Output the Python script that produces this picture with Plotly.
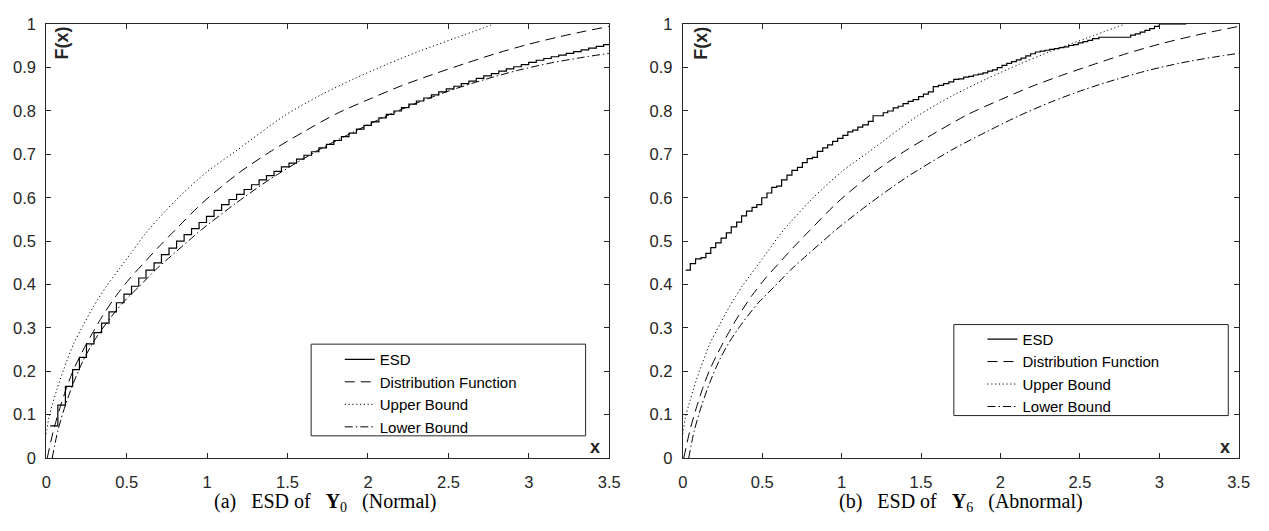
import plotly.graph_objects as go

# The page keeps the browser's default 8 px body margin, so a 1253 x 515 figure
# fills the 1269 x 531 window exactly and sits at (8, 8) in the picture.
PAGE_MARGIN = 8
WF, HF = 1253, 515

# ---------------- data ----------------
UB_X = [0.0, 0.016, 0.037, 0.067, 0.108, 0.17, 0.231, 0.292, 0.374, 0.456, 0.538, 0.62,
        0.81, 1.0, 1.176, 1.48, 1.707, 1.912, 2.12, 2.32, 2.55, 2.78]
UB_Y = [0.055, 0.093, 0.122, 0.159, 0.204, 0.263, 0.307, 0.348, 0.396, 0.437, 0.478, 0.519,
        0.596, 0.66, 0.707, 0.789, 0.837, 0.874, 0.908, 0.938, 0.969, 1.0]

DF_X = [0.006, 0.047, 0.088, 0.129, 0.17, 0.22, 0.272, 0.354, 0.436, 0.517, 0.6, 0.7, 0.8,
        0.97, 1.2, 1.4, 1.6, 1.8, 2.0, 2.2, 2.4, 2.6, 2.8, 3.0, 3.2, 3.35, 3.5]
DF_Y = [0.0, 0.067, 0.119, 0.165, 0.204, 0.242, 0.278, 0.33, 0.375, 0.413, 0.447, 0.487, 0.525,
        0.588, 0.658, 0.708, 0.752, 0.793, 0.826, 0.857, 0.884, 0.909, 0.933, 0.954, 0.972, 0.984, 0.995]

LB_X = [0.037, 0.072, 0.119, 0.17, 0.231, 0.292, 0.374, 0.476, 0.579, 0.68, 0.783, 0.885, 0.967,
        1.17, 1.4, 1.707, 1.912, 2.117, 2.32, 2.525, 2.73, 2.935, 3.14, 3.34, 3.5]
LB_Y = [0.0, 0.063, 0.122, 0.174, 0.226, 0.267, 0.311, 0.358, 0.396, 0.434, 0.468, 0.501, 0.527,
        0.585, 0.645, 0.713, 0.752, 0.789, 0.821, 0.849, 0.873, 0.894, 0.911, 0.924, 0.933]

ESD0_X = [0.025, 0.072, 0.119, 0.164, 0.206, 0.25, 0.297, 0.344, 0.39, 0.436, 0.483, 0.53, 0.575,
          0.62, 0.67, 0.716, 0.763, 0.81, 0.857, 0.903, 0.95, 0.996, 1.043, 1.09, 1.136, 1.183,
          1.23, 1.276, 1.323, 1.369, 1.416, 1.462, 1.509, 1.556, 1.602, 1.649, 1.695, 1.742,
          1.788, 1.835, 1.882, 1.928, 1.975, 2.021, 2.068, 2.114, 2.161, 2.208, 2.254, 2.301,
          2.347, 2.394, 2.44, 2.487, 2.534, 2.58, 2.627, 2.673, 2.72, 2.767, 2.813, 2.86, 2.906,
          2.953, 2.999, 3.046, 3.093, 3.139, 3.186, 3.232, 3.279, 3.325, 3.372, 3.419, 3.465, 3.5]
ESD0_Y = [0.074, 0.122, 0.165, 0.204, 0.232, 0.263, 0.289, 0.311, 0.337, 0.358, 0.378, 0.396, 0.415,
          0.433, 0.45, 0.469, 0.484, 0.5, 0.515, 0.529, 0.543, 0.557, 0.571, 0.584, 0.596, 0.608,
          0.619, 0.63, 0.641, 0.651, 0.661, 0.671, 0.68, 0.689, 0.698, 0.706, 0.715, 0.723,
          0.732, 0.741, 0.749, 0.758, 0.767, 0.775, 0.784, 0.792, 0.8, 0.808, 0.816, 0.823,
          0.83, 0.837, 0.844, 0.851, 0.857, 0.863, 0.869, 0.875, 0.881, 0.886, 0.892, 0.897, 0.902,
          0.907, 0.912, 0.917, 0.921, 0.925, 0.929, 0.933, 0.937, 0.941, 0.945, 0.949, 0.953, 0.955]

ESD6_X = [0.018, 0.047, 0.08, 0.115, 0.145, 0.176, 0.207, 0.241, 0.274, 0.305, 0.339, 0.37, 0.401,
          0.436, 0.466, 0.497, 0.53, 0.56, 0.591, 0.622, 0.656, 0.687, 0.722, 0.753, 0.783, 0.816,
          0.847, 0.881, 0.912, 0.943, 0.975, 1.008, 1.039, 1.07, 1.102, 1.133, 1.168, 1.198, 1.262,
          1.29, 1.325, 1.356, 1.387, 1.419, 1.45, 1.485, 1.515, 1.546, 1.577, 1.609, 1.642, 1.675,
          1.706, 1.738, 1.769, 1.8, 1.83, 1.86, 1.89, 1.92, 1.95, 1.98, 2.01, 2.04, 2.07, 2.1, 2.13,
          2.16, 2.19, 2.22, 2.25, 2.28, 2.31, 2.34, 2.37, 2.4, 2.43, 2.46, 2.49, 2.52, 2.55, 2.58,
          2.62, 2.82, 2.85, 2.88, 2.91, 2.94, 2.97, 3.0, 3.17]
ESD6_Y = [0.433, 0.448, 0.459, 0.462, 0.472, 0.485, 0.496, 0.507, 0.519, 0.533, 0.544, 0.558, 0.569,
          0.578, 0.584, 0.6, 0.611, 0.624, 0.627, 0.641, 0.652, 0.663, 0.67, 0.681, 0.69, 0.693,
          0.707, 0.715, 0.722, 0.73, 0.737, 0.744, 0.752, 0.756, 0.763, 0.768, 0.776, 0.789, 0.796,
          0.8, 0.807, 0.811, 0.817, 0.822, 0.826, 0.833, 0.839, 0.844, 0.856, 0.859, 0.863, 0.867,
          0.873, 0.874, 0.878, 0.88, 0.883, 0.885, 0.888, 0.892, 0.895, 0.9, 0.905, 0.91, 0.914, 0.918, 0.922,
          0.927, 0.932, 0.936, 0.938, 0.94, 0.942, 0.944, 0.946, 0.948, 0.951, 0.953, 0.957, 0.96, 0.963, 0.967,
          0.97, 0.975, 0.978, 0.982, 0.986, 0.99, 0.995, 1.0, 1.0]

X_TICKS = [0, 0.5, 1, 1.5, 2, 2.5, 3, 3.5]
Y_TICKS = [0, 0.1, 0.2, 0.3, 0.4, 0.5, 0.6, 0.7, 0.8, 0.9, 1]
NAMES = ["ESD", "Distribution Function", "Upper Bound", "Lower Bound"]
NB = "\u00a0\u00a0 "
CAPTIONS = ["(a)" + NB + "ESD of" + NB + "<b>Y</b><sub>0</sub>" + NB + "(Normal)",
            "(b)" + NB + "ESD of" + NB + "<b>Y</b><sub>6</sub>" + NB + "(Abnormal)"]


# ---------------- layout helpers (picture pixels -> paper fractions) ----------------
def px(ix):
    return (ix - PAGE_MARGIN) / WF


def py(iy):
    return 1 - (iy - PAGE_MARGIN) / HF


AX_COLOR = "#262626"
SANS = "Liberation Sans, Arial, sans-serif"
SERIF = "Liberation Serif, Times New Roman, serif"

fig = go.Figure()

panels = [
    dict(xa="x", ya="y", legend="legend", esd_x=ESD0_X, esd_y=ESD0_Y),
    dict(xa="x2", ya="y2", legend="legend2", esd_x=ESD6_X, esd_y=ESD6_Y),
]

for p in panels:
    fig.add_trace(go.Scatter(x=p["esd_x"], y=p["esd_y"], mode="lines", name=NAMES[0],
                             line=dict(color="black", width=1.2, shape="hv"),
                             xaxis=p["xa"], yaxis=p["ya"], legend=p["legend"], hoverinfo="skip"))
    fig.add_trace(go.Scatter(x=DF_X, y=DF_Y, mode="lines", name=NAMES[1],
                             line=dict(color="black", width=1.0, dash="10px,6px", shape="spline", smoothing=0.8),
                             xaxis=p["xa"], yaxis=p["ya"], legend=p["legend"], hoverinfo="skip"))
    fig.add_trace(go.Scatter(x=UB_X, y=UB_Y, mode="lines", name=NAMES[2],
                             line=dict(color="black", width=1.0, dash="1.2px,2.6px", shape="spline", smoothing=0.8),
                             xaxis=p["xa"], yaxis=p["ya"], legend=p["legend"], hoverinfo="skip"))
    fig.add_trace(go.Scatter(x=LB_X, y=LB_Y, mode="lines", name=NAMES[3],
                             line=dict(color="black", width=1.0, dash="8px,3px,1.5px,3px", shape="spline", smoothing=0.8),
                             xaxis=p["xa"], yaxis=p["ya"], legend=p["legend"], hoverinfo="skip"))

axis_common = dict(
    showline=True, linecolor=AX_COLOR, linewidth=1, mirror="ticks",
    ticks="inside", ticklen=5, tickwidth=1, tickcolor=AX_COLOR,
    showgrid=False, zeroline=False, ticklabeloverflow="allow",
    tickfont=dict(family=SANS, size=16.5, color=AX_COLOR),
)

xdom1 = [px(41.7), px(612)]
xdom2 = [px(686.5), px(1249.5)]
ydom = [py(465), py(15.5)]

fig.update_layout(
    width=WF, height=HF,
    margin=dict(l=0, r=0, t=0, b=0),
    paper_bgcolor="white", plot_bgcolor="white",
    xaxis=dict(domain=xdom1, range=[0, 3.5], tickvals=X_TICKS, anchor="y",
               ticklabelstandoff=9, **axis_common),
    yaxis=dict(domain=ydom, range=[0, 1], tickvals=Y_TICKS, anchor="x",
               ticklabelstandoff=6, **axis_common),
    xaxis2=dict(domain=xdom2, range=[0, 3.5], tickvals=X_TICKS, anchor="y2",
                ticklabelstandoff=9, **axis_common),
    yaxis2=dict(domain=ydom, range=[0, 1], tickvals=Y_TICKS, anchor="x2",
                ticklabelstandoff=6, **axis_common),
    showlegend=True,
)

# legend: text starts 40 px right of the legend's left edge;
# the middle of the four entries (22.5 px apart) sits 50 px below its top edge
leg_common = dict(xanchor="left", yanchor="top", bgcolor="rgba(0,0,0,0)", borderwidth=0,
                  font=dict(family=SANS, size=15, color="black"),
                  traceorder="normal", itemclick=False, itemdoubleclick=False)
fig.update_layout(
    legend=dict(x=px(379 - 40), y=py(395.9 - 50), **leg_common),
    legend2=dict(x=px(1030 - 40), y=py(374.85 - 50), **leg_common),
)

# legend frames (MATLAB style box)
for (x0, x1, y0, y1) in [(310, 588, 347, 442), (961, 1239, 326.7, 421)]:
    fig.add_shape(type="rect", xref="paper", yref="paper",
                  x0=px(x0), x1=px(x1), y0=py(y1), y1=py(y0),
                  line=dict(color=AX_COLOR, width=1), fillcolor="rgba(0,0,0,0)", layer="above")

# axis labels inside the box, MATLAB style
for fx, xx in [(58, 597.5), (704.5, 1236)]:
    fig.add_annotation(x=px(fx), y=py(35), xref="paper", yref="paper", text="<b>F(x)</b>",
                       textangle=-90, showarrow=False, xanchor="center", yanchor="middle",
                       font=dict(family=SANS, size=18, color=AX_COLOR))
    fig.add_annotation(x=px(xx), y=py(454), xref="paper", yref="paper", text="<b>x</b>",
                       showarrow=False, xanchor="center", yanchor="middle",
                       font=dict(family=SANS, size=18, color=AX_COLOR))

# captions
for cx, cap in zip([325, 968], CAPTIONS):
    fig.add_annotation(x=px(cx), y=py(511.5), xref="paper", yref="paper", text=cap,
                       showarrow=False, xanchor="center", yanchor="middle",
                       font=dict(family=SERIF, size=20, color="black"))

fig.write_html("out.html", config={"displayModeBar": False})
